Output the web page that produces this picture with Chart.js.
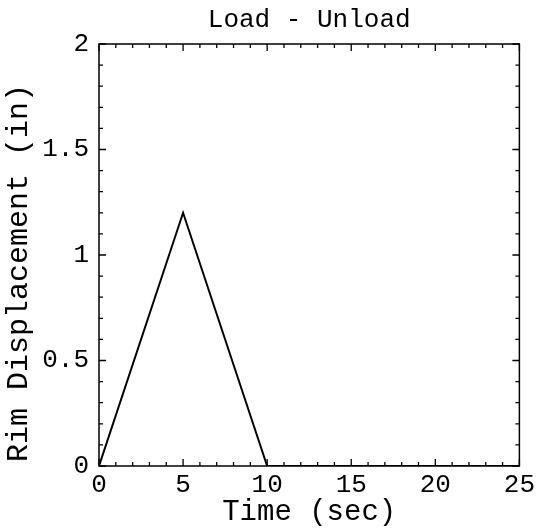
<!DOCTYPE html>
<html>
<head>
<meta charset="utf-8">
<script src="https://cdn.jsdelivr.net/npm/chart.js@4/dist/chart.umd.min.js"></script>
<style>
  html, body { margin: 0; padding: 0; background: #fff; }
  #wrap { width: 539px; height: 529px; }
</style>
</head>
<body>
<div id="wrap"><canvas id="chart"></canvas></div>
<script>
const timeSec = [0, 5, 10, 25];
const rimDisp = [0, 1.2, 0, 0];
const xTickValues = [0, 5, 10, 15, 20, 25];
const yTickValues = [0, 0.5, 1, 1.5, 2];

const FONT = "'Liberation Mono', 'Courier New', monospace";

// inward frame ticks on all four sides, Mathematica style
const frameTicks = {
  id: "frameTicks",
  afterDatasetsDraw(chart) {
    const { ctx, chartArea: a, scales } = chart;
    const x = scales.x;
    const y = scales.y;
    ctx.save();
    ctx.strokeStyle = "#000";
    ctx.lineWidth = 1.5;
    ctx.strokeRect(a.left, a.top, a.right - a.left, a.bottom - a.top);
    ctx.lineWidth = 1.3;
    ctx.beginPath();
    for (let i = 0; i <= 25; i++) {
      const px = x.getPixelForValue(i);
      const len = i % 5 === 0 ? 7 : 4;
      ctx.moveTo(px, a.bottom);
      ctx.lineTo(px, a.bottom - len);
      ctx.moveTo(px, a.top);
      ctx.lineTo(px, a.top + len);
    }
    for (let i = 0; i <= 20; i++) {
      const py = y.getPixelForValue(i / 10);
      const len = i % 5 === 0 ? 7 : 4;
      ctx.moveTo(a.left, py);
      ctx.lineTo(a.left + len, py);
      ctx.moveTo(a.right, py);
      ctx.lineTo(a.right - len, py);
    }
    ctx.stroke();
    ctx.restore();
  },
};

new Chart(document.getElementById("chart"), {
  type: "line",
  data: {
    datasets: [
      {
        label: "Load - Unload",
        data: timeSec.map((t, i) => ({ x: t, y: rimDisp[i] })),
        borderColor: "#000",
        borderWidth: 2,
        pointRadius: 0,
        tension: 0,
        fill: false,
      },
    ],
  },
  options: {
    responsive: true,
    maintainAspectRatio: false,
    animation: false,
    layout: { padding: { left: 0, right: 17, top: 0, bottom: 0 } },
    plugins: {
      legend: { display: false },
      tooltip: { enabled: false },
    },
    scales: {
      x: {
        type: "linear",
        min: 0,
        max: 25,
        afterBuildTicks(scale) {
          scale.ticks = xTickValues.map((v) => ({ value: v }));
        },
        afterFit(scale) {
          scale.height = 63;
        },
        grid: { display: false, drawTicks: false },
        border: { display: false },
        ticks: {
          color: "#000",
          padding: 4,
          maxRotation: 0,
          autoSkip: false,
          font: { family: FONT, size: 26 },
          callback: (v) => String(v),
        },
        title: {
          display: true,
          text: "Time (sec)",
          color: "#000",
          font: { family: FONT, size: 29 },
          padding: { top: 0, bottom: -1 },
        },
      },
      // top axis only carries the plot title, centred over the frame
      top: {
        type: "linear",
        position: "top",
        min: 0,
        max: 25,
        afterFit(scale) {
          scale.height = 44;
        },
        grid: { display: false, drawTicks: false },
        border: { display: false },
        ticks: { display: false },
        title: {
          display: true,
          text: "Load - Unload",
          color: "#000",
          font: { family: FONT, size: 26 },
          padding: { top: 5, bottom: 0 },
        },
      },
      y: {
        type: "linear",
        min: 0,
        max: 2,
        afterBuildTicks(scale) {
          scale.ticks = yTickValues.map((v) => ({ value: v }));
        },
        afterFit(scale) {
          scale.width = 99;
        },
        grid: { display: false, drawTicks: false },
        border: { display: false },
        ticks: {
          color: "#000",
          padding: 10,
          autoSkip: false,
          font: { family: FONT, size: 26 },
          callback: (v) => String(v),
        },
        title: {
          display: true,
          text: "Rim Displacement (in)  ",
          color: "#000",
          font: { family: FONT, size: 30 },
          padding: { top: 1, bottom: 0 },
        },
      },
    },
  },
  plugins: [frameTicks],
});
</script>
</body>
</html>
